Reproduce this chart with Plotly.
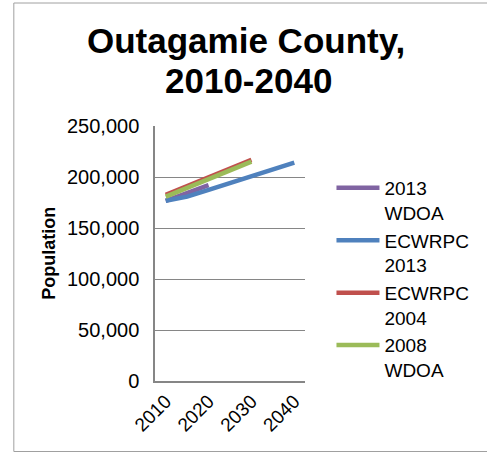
import plotly.graph_objects as go

years = ["2010", "2015", "2020", "2025", "2030", "2035", "2040"]
tick_years = ["2010", "2020", "2030", "2040"]

wdoa_2013 = [176700, 184000, 192000, None, None, None, None]
ecwrpc_2013 = [176700, 180700, 187400, 194000, 200700, 207300, 214000]
ecwrpc_2004 = [182400, 191000, 199600, 208200, 216800, None, None]
wdoa_2008 = [180700, 189300, 197900, 206500, 215000, None, None]

series = [
    ("2013<br>WDOA", wdoa_2013, "#8064A2"),
    ("ECWRPC<br>2013", ecwrpc_2013, "#4F81BD"),
    ("ECWRPC<br>2004", ecwrpc_2004, "#C0504D"),
    ("2008<br>WDOA", wdoa_2008, "#9BBB59"),
]

W, H = 487, 453
L, R, T, B = 155, 487 - 308, 126, 453 - 381
pw, ph = W - L - R, H - T - B

def px(x):
    return (x - L) / pw

def py(y):
    return (H - B - y) / ph

FONT = "Liberation Sans, Arial, sans-serif"

fig = go.Figure()
for name, vals, color in series:
    fig.add_trace(go.Scatter(x=years, y=vals, name=name, mode="lines",
                             line=dict(color=color, width=4.5),
                             connectgaps=False))

fig.update_layout(
    width=W, height=H,
    margin=dict(l=L, r=R, t=T, b=B),
    paper_bgcolor="white", plot_bgcolor="white",
    font=dict(family=FONT, size=19, color="black"),
    showlegend=True,
    legend=dict(x=px(335), y=py(169), xanchor="left", yanchor="top",
                font=dict(size=19, family=FONT), valign="top", itemwidth=43,
                bgcolor="rgba(0,0,0,0)", tracegroupgap=0),
    xaxis=dict(type="category", categoryorder="array", categoryarray=years,
               tickvals=tick_years, ticktext=tick_years, tickangle=-45,
               showgrid=False, showline=True, linecolor="#868686", linewidth=1.5,
               ticks="", tickfont=dict(size=19), range=[-0.5, 6.5]),
    yaxis=dict(range=[0, 250000], tickvals=[0, 50000, 100000, 150000, 200000, 250000],
               ticktext=["0", "50,000", "100,000", "150,000", "200,000", "250,000"],
               showgrid=True, gridcolor="#868686", gridwidth=1.2,
               showline=True, linecolor="#868686", linewidth=1.5,
               ticks="", ticklabelstandoff=10, tickfont=dict(size=20), zeroline=False),
    annotations=[
        dict(text="<b>Outagamie County,</b>", x=px(248), y=py(40), xref="paper", yref="paper",
             xanchor="center", yanchor="middle", showarrow=False,
             font=dict(size=35, family=FONT)),
        dict(text="<b>2010-2040</b>", x=px(250), y=py(80), xref="paper", yref="paper",
             xanchor="center", yanchor="middle", showarrow=False,
             font=dict(size=35, family=FONT)),
        dict(text="<b>Population</b>", x=px(46), y=0.5, xref="paper", yref="paper",
             xanchor="center", yanchor="middle", showarrow=False, textangle=-90,
             font=dict(size=18, family=FONT)),
    ],
    shapes=[
        dict(type="rect", xref="paper", yref="paper",
             x0=px(11), x1=px(495), y0=py(451.5), y1=py(3),
             line=dict(color="#A0A0A0", width=1), fillcolor="rgba(0,0,0,0)", layer="below"),
    ],
)

fig.write_html("out.html", config={"displayModeBar": False},
               post_script="document.body.style.margin='0px';document.body.style.overflow='hidden';")
